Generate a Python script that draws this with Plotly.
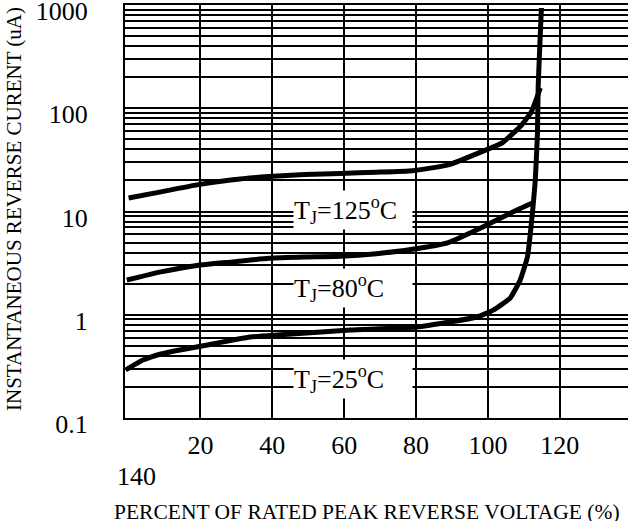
import math
import plotly.graph_objects as go

# ---- data ----
x_125 = [0, 9, 19, 29, 39, 49, 59, 69, 79, 89, 99, 104, 109, 112, 114.6]
y_125 = [13.5, 15.5, 18.1, 20.3, 21.8, 22.8, 23.4, 24.0, 24.8, 28.3, 38.9, 46.3, 66.6, 90.8, 157]

x_80 = [-0.5, 9, 19, 29, 39, 49, 59, 69, 79, 89, 99, 104, 109, 112.4]
y_80 = [2.17, 2.6, 3.0, 3.25, 3.52, 3.62, 3.68, 3.9, 4.3, 5.0, 7.2, 8.8, 10.7, 12.1]

x_25 = [-0.8, 4, 9, 14.3, 20.4, 33.8, 41.3, 61.7, 80.3, 97, 101.5, 106.2, 109, 111, 112.4, 113.2, 113.8, 114.0, 114.6, 114.9]
y_25 = [0.292, 0.364, 0.417, 0.456, 0.498, 0.608, 0.637, 0.711, 0.760, 0.951, 1.11, 1.45, 2.17, 3.62, 9.67, 20.2, 57.6, 161, 535, 935]

x_tick_vals = [20, 40, 60, 80, 100, 120]
x_tick_text = ["20", "40", "60", "80", "100", "120"]
y_decades = [0.1, 1, 10, 100, 1000]
y_decade_text = ["0.1", "1", "10", "100", "1000"]

curve_labels = ["T<sub>J</sub>=125<sup>o</sup>C", "T<sub>J</sub>=80<sup>o</sup>C", "T<sub>J</sub>=25<sup>o</sup>C"]
label_x = [62.5, 62.5, 62.5]
label_y = [10.34, 1.816, 0.2385]

FONT = "Liberation Serif"

# log grid values (1..9 per decade)
grid_vals = []
grid_text = []
for d, t in zip(y_decades[:-1], y_decade_text[:-1]):
    for k in range(1, 10):
        grid_vals.append(round(d * k, 6))
        grid_text.append(t if k == 1 else "")
grid_vals.append(y_decades[-1])
grid_text.append(y_decade_text[-1])

fig = go.Figure()
for xs, ys in [(x_125, y_125), (x_80, y_80), (x_25, y_25)]:
    fig.add_trace(go.Scatter(
        x=xs, y=ys, mode="lines",
        line=dict(color="black", width=5, shape="spline", smoothing=0.4),
        showlegend=False, hoverinfo="skip"))

annotations = []
for txt, lx, ly in zip(curve_labels, label_x, label_y):
    annotations.append(dict(
        x=lx, y=math.log10(ly), xref="x", yref="y", text=txt, showarrow=False,
        font=dict(family=FONT, size=26, color="black"),
        bgcolor="white", width=118, height=38, align="left",
        xanchor="center", yanchor="middle", borderpad=0))

annotations.append(dict(
    x=2.3, xref="x", y=0, yref="paper", yshift=-58, text="140",
    showarrow=False, font=dict(family=FONT, size=26, color="black"),
    xanchor="center", yanchor="middle"))
annotations.append(dict(
    x=0.482, xref="paper", y=0, yref="paper", yshift=-80,
    text="PERCENT OF RATED PEAK REVERSE VOLTAGE (%)", showarrow=False,
    font=dict(family=FONT, size=21.5, color="black"),
    xanchor="center", yanchor="top"))
annotations.append(dict(
    x=-0.2207, xref="paper", y=0.506, yref="paper",
    text="INSTANTANEOUS REVERSE CURENT (uA)", showarrow=False, textangle=-90,
    font=dict(family=FONT, size=21, color="black"),
    xanchor="center", yanchor="middle"))

fig.update_layout(
    template="none",
    width=628, height=521,
    margin=dict(l=125, r=0, t=5, b=103),
    paper_bgcolor="white", plot_bgcolor="white",
    font=dict(family=FONT, color="black"),
    annotations=annotations,
    xaxis=dict(
        range=[-1, 139], tickvals=x_tick_vals, ticktext=x_tick_text,
        showgrid=True, gridcolor="black", gridwidth=1.5,
        showline=True, linecolor="black", linewidth=2, mirror=True,
        ticks="", zeroline=False, automargin=False,
        ticklabelstandoff=3,
        tickfont=dict(family=FONT, size=26, color="black")),
    yaxis=dict(
        type="log", range=[-1, 3], tickvals=grid_vals, ticktext=grid_text,
        showgrid=True, gridcolor="black", gridwidth=1.5,
        showline=True, linecolor="black", linewidth=2, mirror=False,
        ticks="", zeroline=False, automargin=False,
        ticklabelstandoff=30, ticklabelshift=6, ticklabeloverflow="allow",
        tickfont=dict(family=FONT, size=26, color="black")),
)

fig.write_html("out.html", config={"displayModeBar": False},
               post_script="document.body.style.margin='0';")
